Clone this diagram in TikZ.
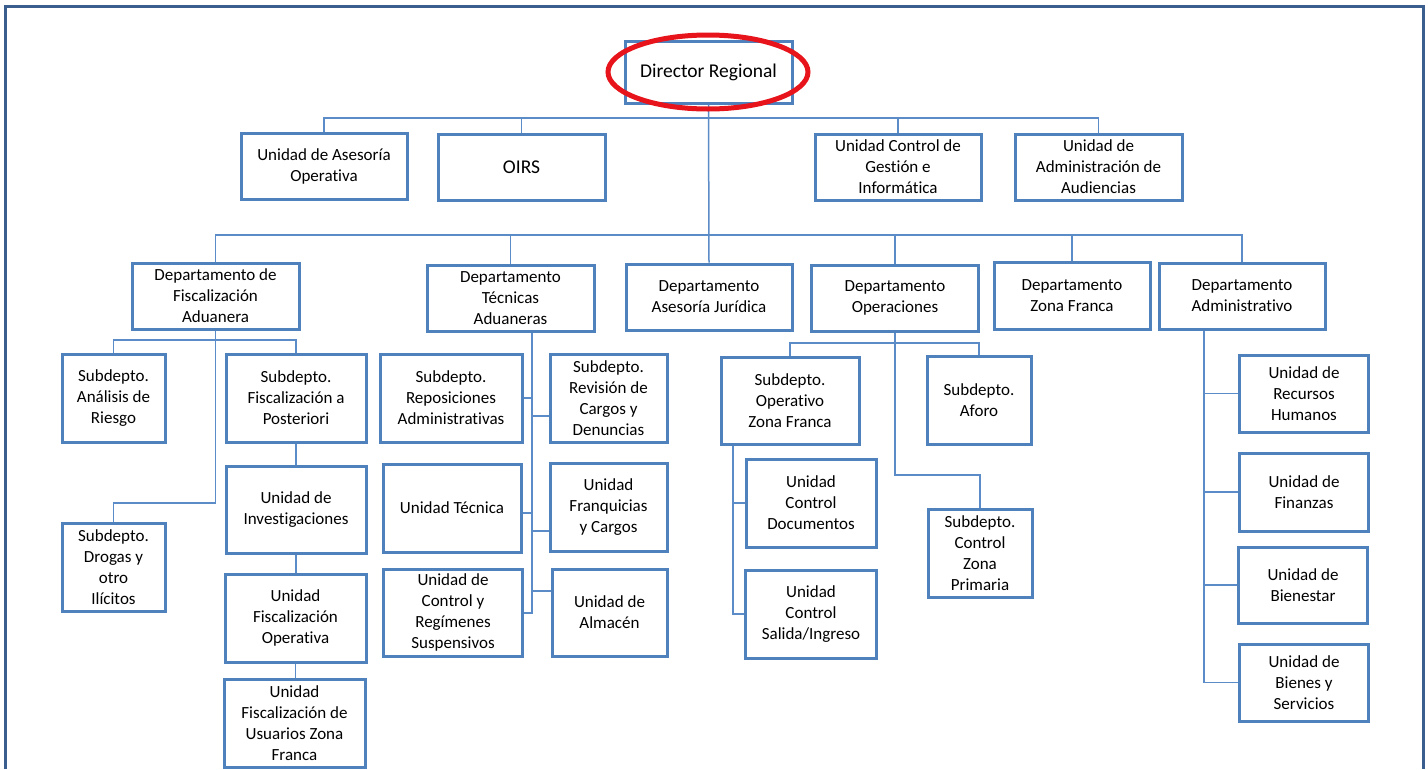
\documentclass[tikz,border=0pt]{standalone}
\usepackage{fontspec}
\setmainfont[Ligatures={NoCommon,NoContextual,NoRare}]{Carlito}
\definecolor{boxblue}{HTML}{4F81BD}
\definecolor{lineblue}{HTML}{5B8CC8}
\definecolor{framec}{HTML}{3A5F8F}
\definecolor{ringred}{HTML}{E8141B}
\tikzset{
  orgbox/.style={draw=boxblue, line width=3pt, fill=white, align=center, inner sep=0pt,
    font=\fontsize{17}{21}\selectfont},
  bigtext/.style={font=\fontsize{19.5}{23}\selectfont},
  conn/.style={draw=lineblue, line width=1.5pt},
}
\newcommand\obox[7][]{\node[orgbox, minimum width=#5pt, minimum height=#6pt, #1] (#2) at (#3,#4) {#7};}
\begin{document}
\begin{tikzpicture}[x=1pt,y=-1pt]
\useasboundingbox (0,0) rectangle (1428,769);
\fill[white] (0,0) rectangle (1428,769);
\draw[framec, line width=3pt] (5,769) -- (5,6) -- (1423,6) -- (1423,769);

% level 1
\obox[bigtext]{dir}{708.5}{72}{167}{62}{\raisebox{-2pt}{Director Regional}}
% level 2
\obox{aseso}{324}{166}{166}{66}{Unidad de Asesoría\\Operativa}
\obox[bigtext]{oirs}{521.5}{167}{167}{66}{OIRS}
\obox{ucg}{898}{167}{166}{66}{Unidad Control de\\Gestión e\\Informática}
\obox{uaa}{1098.5}{167}{167}{66}{Unidad de\\Administración de\\Audiencias}
% departments
\obox{dfa}{215.5}{296}{167}{66}{Departamento de\\Fiscalización\\Aduanera}
\obox{dta}{510.5}{298}{167}{66}{Departamento\\Técnicas\\Aduaneras}
\obox{daj}{709}{297}{166}{66}{Departamento\\Asesoría Jurídica}
\obox{dop}{895}{298}{167}{66}{Departamento\\Operaciones}
\obox{dzf}{1072}{295.5}{156}{67}{Departamento\\Zona Franca}
\obox{dad}{1242}{296}{166}{66}{Departamento\\Administrativo}
% fiscalizacion
\obox{ana}{113.5}{398}{103}{88}{Subdepto.\\Análisis de\\Riesgo}
\obox{pos}{296}{398}{140}{88}{Subdepto.\\Fiscalización a\\Posteriori}
\obox{inv}{296}{509.5}{140}{87}{Unidad de\\Investigaciones}
\obox{fop}{295.5}{618}{141}{88}{Unidad\\Fiscalización\\Operativa}
\obox{fuz}{294.5}{723}{141}{88}{Unidad\\Fiscalización de\\Usuarios Zona\\Franca}
\obox{dro}{113.5}{567}{103}{88}{Subdepto.\\Drogas y\\otro\\Ilícitos}
% tecnicas
\obox{rep}{451}{398}{142}{88}{Subdepto.\\Reposiciones\\Administrativas}
\obox{rev}{608.5}{398}{117}{88}{Subdepto.\\Revisión de\\Cargos y\\Denuncias}
\obox{ute}{452}{508}{138}{88}{Unidad Técnica}
\obox{ufc}{608.5}{507}{117}{88}{Unidad\\Franquicias\\y Cargos}
\obox{ucr}{453}{612.5}{139}{87}{Unidad de\\Control y\\Regímenes\\Suspensivos}
\obox{ual}{609.5}{612.5}{115}{87}{Unidad de\\Almacén}
% operaciones
\obox{ozf}{790}{400.5}{138}{87}{Subdepto.\\Operativo\\Zona Franca}
\obox{afo}{979}{400}{104}{88}{Subdepto.\\Aforo}
\obox{czp}{980}{553}{104}{88}{Subdepto.\\Control\\Zona\\Primaria}
\obox{ucd}{811}{503}{130}{88}{Unidad\\Control\\Documentos}
\obox{usi}{811}{614}{131}{88}{Unidad\\Control\\Salida/Ingreso}
% administrativo
\obox{urh}{1304}{393.5}{129}{77}{Unidad de\\Recursos\\Humanos}
\obox{ufi}{1304}{492}{129}{78}{Unidad de\\Finanzas}
\obox{ube}{1303}{585}{129}{76}{Unidad de\\Bienestar}
\obox{ubs}{1304}{682.5}{129}{77}{Unidad de\\Bienes y\\Servicios}

% connectors
\coordinate (b1) at (709,118);
\coordinate (b2) at (709,235);
\draw[conn] (dir.south) -- (daj.north);
\draw[conn] (aseso.north) -- (aseso.north |- b1) -- (uaa.north |- b1) -- (uaa.north);
\draw[conn] (oirs.north) -- (oirs.north |- b1);
\draw[conn] (ucg.north) -- (ucg.north |- b1);
\draw[conn] (dfa.north) -- (dfa.north |- b2) -- (dad.north |- b2) -- (dad.north);
\draw[conn] (dta.north) -- (dta.north |- b2);
\draw[conn] (dop.north) -- (dop.north |- b2);
\draw[conn] (dzf.north) -- (dzf.north |- b2);

% fiscalizacion connectors
\coordinate (fb) at (0,340);
\coordinate (fd) at (0,503);
\draw[conn] (ana.north) -- (ana.north |- fb) -- (pos.north |- fb) -- (pos.north);
\draw[conn] (dfa.south) -- (dfa.south |- fd) -- (dro.north |- fd) -- (dro.north);
\draw[conn] (pos.south) -- (pos.south |- inv.north);
\draw[conn] (inv.south) -- (inv.south |- fop.north);
\draw[conn] (fop.south) -- (fop.south |- fuz.north);

% tecnicas connectors
\coordinate (ts) at (532,613);
\draw[conn] (ts |- dta.south) -- (ts) -- (ucr.east |- ts);
\draw[conn] (rep.east) -- (rep.east -| ts);
\draw[conn] ([yshift=-18pt]rev.west) -- ([yshift=-18pt]rev.west -| ts);
\draw[conn] ([yshift=-5pt]ute.east) -- ([yshift=-5pt]ute.east -| ts);
\draw[conn] ([yshift=-24pt]ufc.west) -- ([yshift=-24pt]ufc.west -| ts);
\draw[conn] ([yshift=21.5pt]ual.west) -- ([yshift=21.5pt]ual.west -| ts);

% operaciones connectors
\coordinate (ob) at (0,343);
\coordinate (od) at (0,475);
\coordinate (os) at (733,0);
\draw[conn] (ozf.north) -- (ozf.north |- ob) -- (afo.north |- ob) -- (afo.north);
\draw[conn] (dop.south) -- (dop.south |- od) -- (czp.north |- od) -- (czp.north);
\draw[conn] (os |- ozf.south) -- (os |- usi.west) -- (usi.west);
\draw[conn] (ucd.west) -- (ucd.west -| os);

% administrativo connectors
\coordinate (as) at (1204,0);
\draw[conn] (as |- dad.south) -- (as |- ubs.west) -- (ubs.west);
\draw[conn] (urh.west) -- (urh.west -| as);
\draw[conn] (ufi.west) -- (ufi.west -| as);
\draw[conn] (ube.west) -- (ube.west -| as);

% red ring
\draw[ringred, line width=5pt] (708,72) ellipse [x radius=100, y radius=37];
\end{tikzpicture}
\end{document}
